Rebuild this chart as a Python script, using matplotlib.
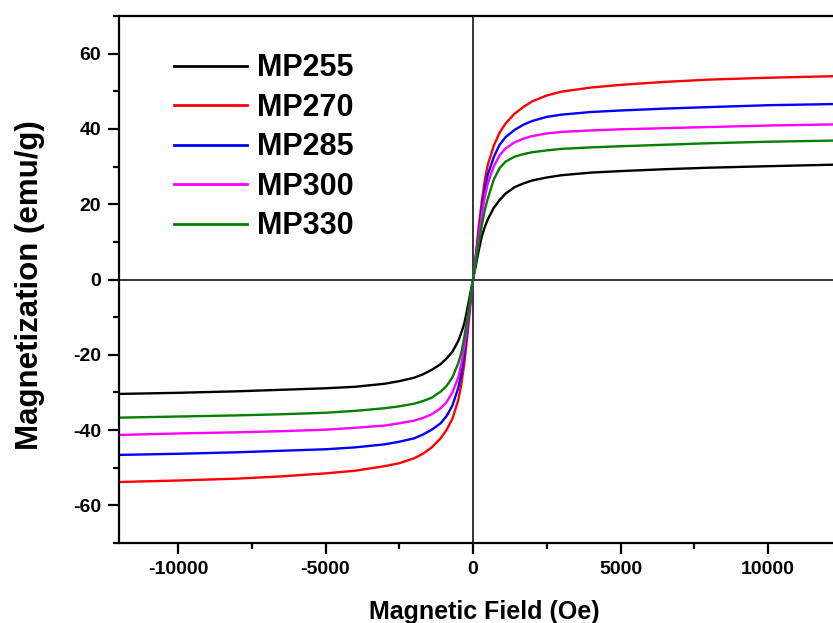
import matplotlib
matplotlib.use("Agg")
import matplotlib.pyplot as plt
from matplotlib.ticker import MultipleLocator

# field values (Oe)
field = [-12000, -10000, -8000, -6500, -5000, -4000, -3000, -2500, -2000, -1700,
         -1400, -1100, -900, -700, -500, -400, -300, -200, -100,
         0, 100, 200, 300, 400, 500, 700, 900, 1100, 1400, 1700,
         2000, 2500, 3000, 4000, 5000, 6500, 8000, 10000, 12200]

mp255 = [-30.4, -30.1, -29.7, -29.3, -28.9, -28.5, -27.7, -27.0, -26.1, -25.2,
         -24.0, -22.5, -21.0, -19.2, -16.3, -14.2, -11.8, -8.0, -4.0,
         0.0, 4.0, 8.0, 11.5, 14.0, 16.0, 19.0, 21.1, 22.8, 24.5, 25.5,
         26.3, 27.1, 27.7, 28.4, 28.8, 29.3, 29.7, 30.1, 30.5]
mp270 = [-53.8, -53.4, -52.9, -52.3, -51.5, -50.8, -49.6, -48.8, -47.5, -46.3,
         -44.6, -42.2, -40.0, -37.0, -32.0, -28.0, -22.5, -15.5, -7.5,
         0.0, 7.0, 14.5, 21.0, 26.5, 30.5, 35.5, 39.0, 41.4, 44.0, 45.8,
         47.3, 48.9, 49.9, 51.0, 51.7, 52.5, 53.1, 53.6, 54.0]
mp285 = [-46.6, -46.3, -45.9, -45.5, -45.1, -44.6, -43.8, -43.1, -42.2, -41.2,
         -39.9, -38.2, -36.3, -33.5, -28.8, -25.0, -20.0, -13.5, -6.5,
         0.0, 6.5, 13.0, 19.0, 24.0, 27.8, 32.5, 35.8, 37.8, 39.7, 41.1,
         42.1, 43.2, 43.8, 44.5, 44.9, 45.4, 45.8, 46.3, 46.6]
mp300 = [-41.3, -40.9, -40.6, -40.3, -39.9, -39.4, -38.8, -38.2, -37.5, -36.8,
         -35.8, -34.2, -32.6, -30.0, -26.0, -22.5, -18.0, -12.2, -6.0,
         0.0, 6.0, 12.0, 17.5, 22.0, 25.5, 30.0, 33.0, 34.8, 36.4, 37.4,
         38.1, 38.8, 39.2, 39.6, 39.9, 40.2, 40.5, 40.9, 41.2]
mp330 = [-36.7, -36.4, -36.1, -35.8, -35.4, -34.9, -34.2, -33.7, -33.0, -32.3,
         -31.4, -29.8, -28.3, -26.0, -22.2, -19.5, -15.5, -10.5, -5.2,
         0.0, 5.0, 10.0, 14.5, 18.5, 21.5, 26.5, 29.6, 31.3, 32.6, 33.3,
         33.8, 34.3, 34.7, 35.1, 35.4, 35.8, 36.2, 36.6, 36.9]

labels = ["MP255", "MP270", "MP285", "MP300", "MP330"]
colors = ["black", "#ff0000", "#0000ff", "#ff00ff", "#008000"]

plt.rcParams["font.family"] = ["Liberation Sans", "DejaVu Sans"]
plt.rcParams["font.weight"] = "bold"
plt.rcParams["axes.unicode_minus"] = False

fig = plt.figure(figsize=(8.33, 6.23), dpi=100)
ax = fig.add_axes([119 / 833, 1 - 543 / 623, 714 / 833, 527 / 623])

for ys, lab, c in zip([mp255, mp270, mp285, mp300, mp330], labels, colors):
    ax.plot(field, ys, color=c, lw=1.7, label=lab)

ax.axhline(0, color="black", lw=1.1, zorder=0)
ax.axvline(0, color="black", lw=1.1, zorder=0)

ax.set_xlim(-12000, 12200)
ax.set_ylim(-70, 70)
ax.xaxis.set_major_locator(MultipleLocator(5000))
ax.xaxis.set_minor_locator(MultipleLocator(2500))
ax.yaxis.set_major_locator(MultipleLocator(20))
ax.yaxis.set_minor_locator(MultipleLocator(10))

for s in ["left", "bottom", "top"]:
    ax.spines[s].set_linewidth(1.6)
ax.spines["right"].set_visible(False)

ax.tick_params(which="major", direction="out", length=8, width=1.6,
               labelsize=14, pad=5)
ax.tick_params(which="minor", direction="out", length=4.5, width=1.6)
ax.tick_params(top=False, right=False, which="both")
for t in ax.get_xticklabels() + ax.get_yticklabels():
    t.set_fontweight("bold")

ax.set_xlabel("Magnetic Field (Oe)", fontsize=18, fontweight="bold")
ax.set_ylabel("Magnetization (emu/g)", fontsize=22.5, fontweight="bold")
ax.xaxis.set_label_coords(0.5 + 8 / 714, -0.108)
ax.yaxis.set_label_coords(-0.104, 0.49)

leg = ax.legend(loc="upper left", bbox_to_anchor=(0.077, 0.929), frameon=False,
                handlelength=2.39, handletextpad=0.33,
                labelspacing=0.31, borderpad=0, borderaxespad=0,
                prop={"weight": "bold", "size": 22})
for h in leg.get_lines():
    h.set_linewidth(2.0)

fig.savefig("out.png", dpi=100)
